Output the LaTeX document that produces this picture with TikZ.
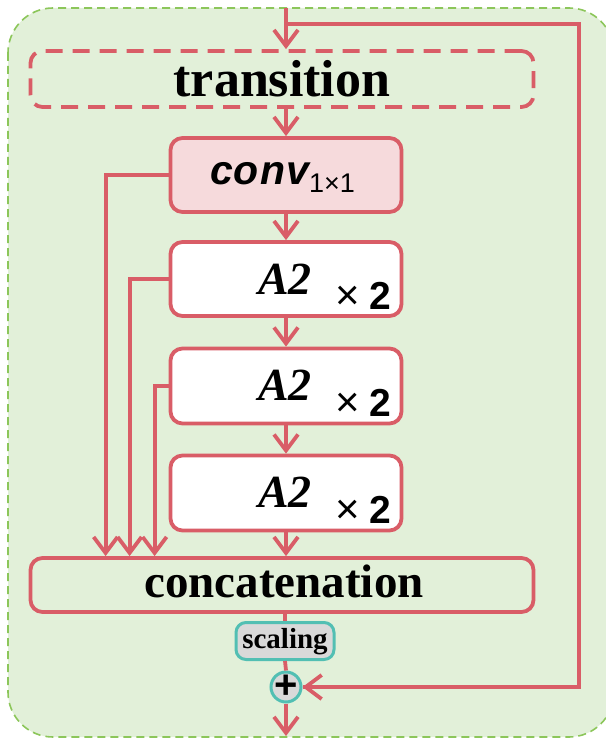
\documentclass[tikz,border=0pt]{standalone}
\usepackage{fontspec}
\setmainfont{Liberation Serif}
\setsansfont{Liberation Sans}
\usetikzlibrary{arrows.meta}
\definecolor{bggreen}{HTML}{E2F0D9}
\definecolor{bgborder}{HTML}{8CC65A}
\definecolor{redline}{HTML}{D95D67}
\definecolor{pinkfill}{HTML}{F6DADC}
\definecolor{tealline}{HTML}{52BFB3}
\definecolor{grayfill}{HTML}{D9D9D9}
\tikzset{
  redbox/.style={draw=redline, line width=3.8pt, rounded corners=12pt, inner sep=0pt},
  arr/.style={draw=redline, line width=3.8pt, -{Straight Barb[length=16pt,width=24pt]}},
  plainline/.style={draw=redline, line width=3.8pt},
  bigserif/.style={font=\fontsize{52}{52}\selectfont\bfseries, anchor=base, inner sep=0pt},
  aname/.style={font=\fontsize{46}{46}\selectfont\bfseries\itshape, anchor=base, inner sep=0pt},
  times/.style={anchor=base west, inner sep=0pt},
  tealbox/.style={draw=tealline, fill=grayfill, line width=3pt, inner sep=0pt}
}
\newcommand{\timestwo}{{\fontsize{42}{42}\selectfont\sffamily ×}\hspace{10pt}{\fontsize{39}{39}\selectfont\sffamily\bfseries 2}}
\begin{document}
\begin{tikzpicture}[x=1pt,y=-1pt]
\useasboundingbox (0,0) rectangle (605,738);
% background
\draw[fill=bggreen, draw=bgborder, line width=1.6pt, dash pattern=on 8pt off 5pt, rounded corners=45pt] (8,8) rectangle (614,737);

% boxes
\node[redbox, dashed, dash pattern=on 17pt off 10pt, minimum width=503pt, minimum height=56pt] (trans) at (282,79) {};
\node[redbox, fill=pinkfill, minimum width=231pt, minimum height=74pt] (conv) at (286,175) {};
\node[redbox, fill=white, minimum width=231pt, minimum height=74pt] (a1) at (286,279) {};
\node[redbox, fill=white, minimum width=231pt, minimum height=75pt] (a2) at (286,386) {};
\node[redbox, fill=white, minimum width=231pt, minimum height=75pt] (a3) at (286,493) {};
\node[redbox, fill=bggreen, minimum width=503pt, minimum height=54pt] (concat) at (282,585) {};
\node[tealbox, rounded corners=10pt, minimum width=98pt, minimum height=37pt] (scal) at (285,641) {};
\node[tealbox, circle, minimum size=30pt] (plus) at (286,687) {};

% texts
\node[bigserif] (ttrans) at (282,97) {transition};
\node[font=\fontsize{47}{47}\selectfont\bfseries, anchor=base, inner sep=0pt] (tconcat) at (284,597) {concatenation};
\node[font=\fontsize{29}{29}\selectfont\bfseries, anchor=base, inner sep=0pt] (tscal) at (285,648) {scaling};
\node[font=\fontsize{40}{40}\selectfont\sffamily\bfseries, inner sep=0pt] (tplus) at (286,687) {+};
\node[font=\fontsize{41}{41}\selectfont\sffamily\bfseries\itshape, anchor=base west, inner sep=0pt] (tconv) at (210,185) {c\kern1pt o\kern1pt n\kern1pt v};
\node[font=\fontsize{27}{27}\selectfont\sffamily, anchor=base west, inner sep=0pt] (tsub) at (309,193) {1×1};

\node[aname] (n1) at (285,294) {A2};
\node[times] (m1) at (335,309) {\timestwo};
\node[aname] (n2) at (285,400) {A2};
\node[times] (m2) at (335,416) {\timestwo};
\node[aname] (n3) at (285,507) {A2};
\node[times] (m3) at (335,523) {\timestwo};

% connectors
\coordinate (top) at (286,8);
\coordinate (fb) at (286,24);
\coordinate (rc) at (579,24);
\coordinate (bot) at (286,736);
\draw[arr] (top) -- (top |- trans.north);
\draw[plainline, line join=miter] (fb) -- (rc) |- (plus.east);
\draw[arr] (rc |- plus.east) -- (plus.east);
\draw[arr] (conv.north |- trans.south) -- (conv.north);
\draw[arr] (conv) -- (a1);
\draw[arr] (a1) -- (a2);
\draw[arr] (a2) -- (a3);
\draw[arr] (a3.south) -- (a3.south |- concat.north);
\draw[arr] (conv.west) -| ([xshift=77pt]concat.north west);
\draw[arr] (a1.west) -| ([xshift=101pt]concat.north west);
\draw[arr] (a2.west) -| ([xshift=126pt]concat.north west);
\draw[plainline] (scal.north |- concat.south) -- (scal.north);
\draw[plainline] (scal.south) -- (plus.north);
\draw[arr] (plus.south) -- (bot);
\end{tikzpicture}
\end{document}
